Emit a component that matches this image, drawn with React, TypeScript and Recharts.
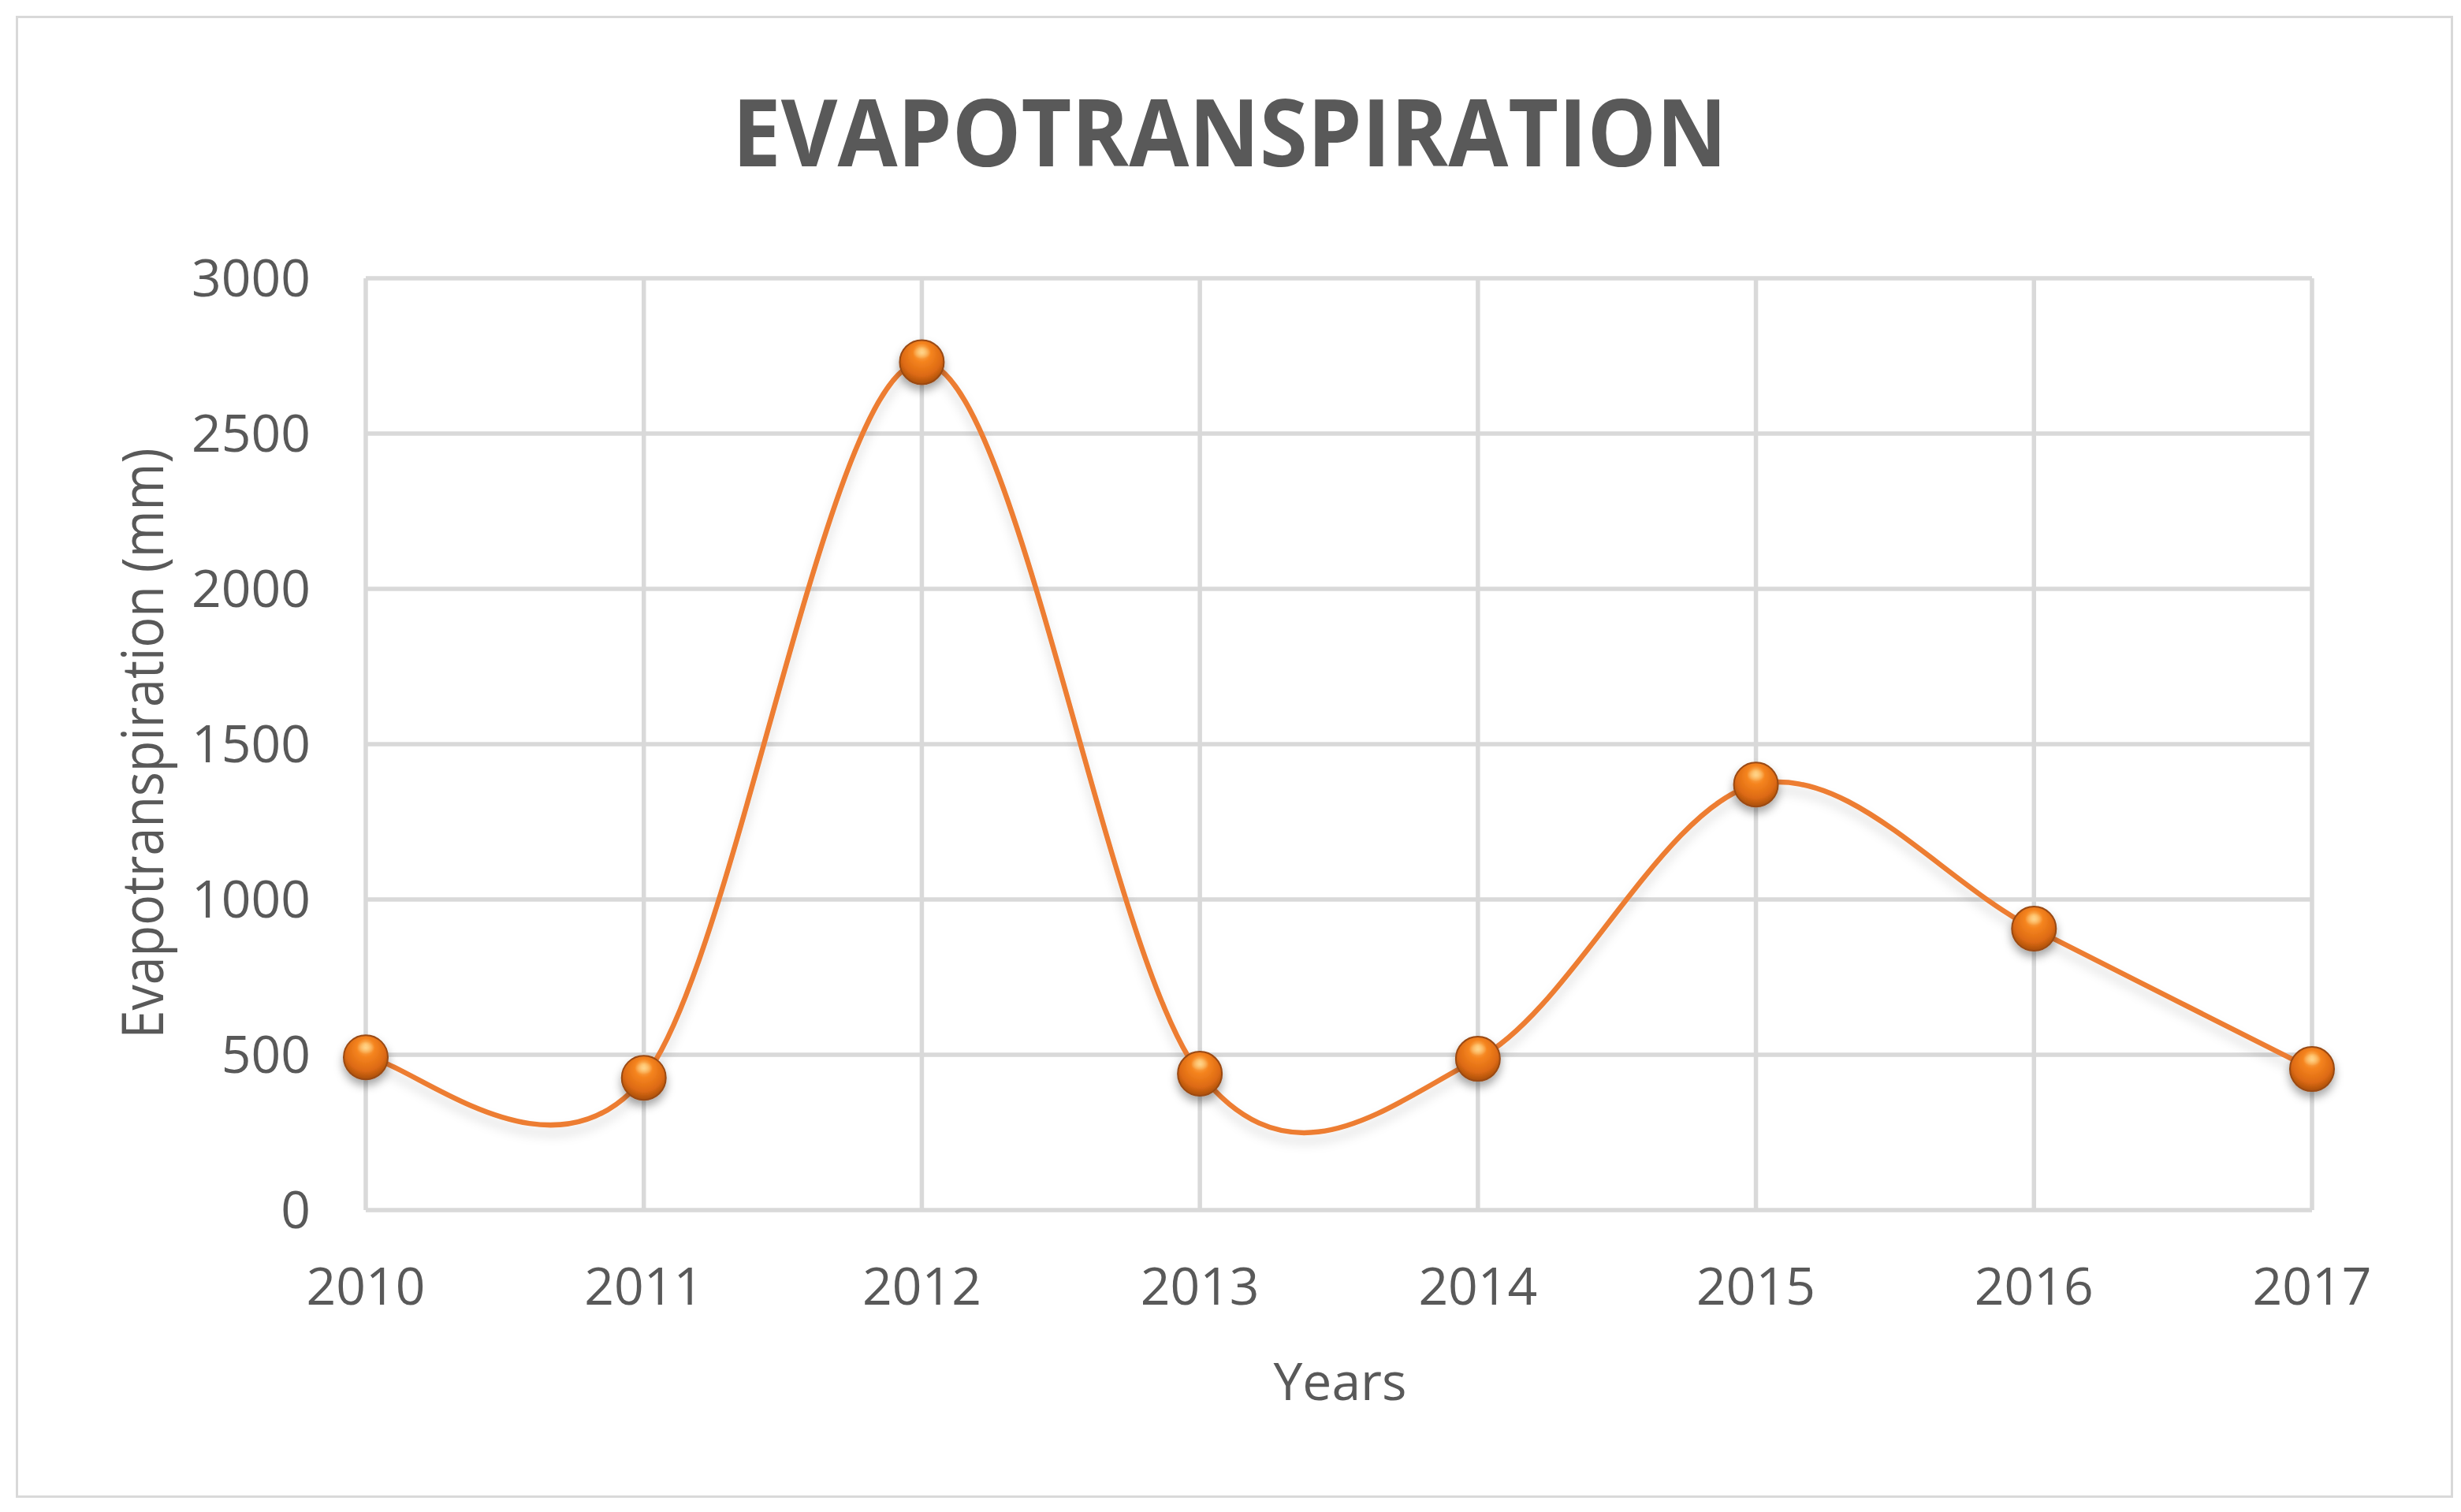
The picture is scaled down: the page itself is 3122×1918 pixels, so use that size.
import React from "react";
import { CartesianGrid, Line, LineChart, XAxis, YAxis } from "recharts";

const years = ["2010", "2011", "2012", "2013", "2014", "2015", "2016", "2017"];
const evapotranspiration = [492, 426, 2730, 439, 487, 1370, 906, 454];
const yTicks = [0, 500, 1000, 1500, 2000, 2500, 3000];

const data = years.map((year, i) => ({ year, value: evapotranspiration[i] }));

const TEXT = "#595959";
const GRID = "#D9D9D9";
const ORANGE = "#ED7D31";
const FONT = "'Open Sans', 'Noto Sans', sans-serif";

/** Excel-style smoothed line (uniform Catmull-Rom as cubic Beziers). */
function excelSmooth(context: any) {
  let pts: [number, number][] = [];
  return {
    areaStart() {},
    areaEnd() {},
    lineStart() {
      pts = [];
    },
    point(x: number, y: number) {
      pts.push([+x, +y]);
    },
    lineEnd() {
      if (!pts.length) return;
      context.moveTo(pts[0][0], pts[0][1]);
      for (let i = 0; i < pts.length - 1; i++) {
        const p0 = pts[i - 1] ?? pts[i];
        const p1 = pts[i];
        const p2 = pts[i + 1];
        const p3 = pts[i + 2] ?? p2;
        context.bezierCurveTo(
          p1[0] + (p2[0] - p0[0]) / 6,
          p1[1] + (p2[1] - p0[1]) / 6,
          p2[0] - (p3[0] - p1[0]) / 6,
          p2[1] - (p3[1] - p1[1]) / 6,
          p2[0],
          p2[1]
        );
      }
    },
  };
}

function BallDot(props: any) {
  const { cx, cy, index } = props;
  if (cx == null || cy == null) return null;
  return (
    <g key={index} filter="url(#ballShadow)">
      <circle cx={cx} cy={cy} r={28} fill="url(#ballFill)" stroke="#9A4A12" strokeWidth={2} />
      <ellipse cx={cx} cy={cy - 12} rx={11} ry={8} fill="url(#ballGlare)" />
    </g>
  );
}

function YTitle(props: any) {
  return (
    <text
      x={199}
      y={935}
      transform="rotate(-90, 199, 935)"
      textAnchor="middle"
      fill={TEXT}
      fontFamily={FONT}
      fontSize={74}
      textLength={749}
      lengthAdjust="spacingAndGlyphs"
    >
      Evapotranspiration (mm)
    </text>
  );
}

function XTitle(props: any) {
  return (
    <text x={1692} y={1768} textAnchor="middle" fill={TEXT} fontFamily={FONT} fontSize={66}>
      Years
    </text>
  );
}

export default function App() {
  return (
    <div style={{ position: "relative", width: 3106, height: 1900, background: "#fff" }}>
      <div
        style={{
          position: "absolute",
          left: 12,
          top: 12,
          width: 3092,
          height: 1880,
          border: `3px solid ${GRID}`,
          boxSizing: "border-box",
        }}
      />
      <svg width={3106} height={260} style={{ position: "absolute", left: 0, top: 0 }}>
        <text
          x={1552}
          y={203}
          textAnchor="middle"
          fill={TEXT}
          fontFamily={FONT}
          fontWeight={700}
          fontSize={119}
          textLength={1262}
          lengthAdjust="spacingAndGlyphs"
        >
          EVAPOTRANSPIRATION
        </text>
      </svg>
      <div style={{ position: "absolute", left: 0, top: 0 }}>
        <LineChart
          width={3106}
          height={1900}
          data={data}
          margin={{ top: 345, right: 181, bottom: 173, left: 0 }}
        >
          <defs>
            <radialGradient id="ballFill" cx="50%" cy="40%" r="60%" fx="50%" fy="22%">
              <stop offset="0%" stopColor="#FFC46B" />
              <stop offset="35%" stopColor="#F5841F" />
              <stop offset="75%" stopColor="#DD6A12" />
              <stop offset="100%" stopColor="#A84E10" />
            </radialGradient>
            <radialGradient id="ballGlare" cx="50%" cy="50%" r="50%">
              <stop offset="0%" stopColor="#FFD890" stopOpacity={0.9} />
              <stop offset="100%" stopColor="#FFD890" stopOpacity={0} />
            </radialGradient>
            <filter id="ballShadow" x="-50%" y="-50%" width="200%" height="200%">
              <feDropShadow dx={0} dy={7} stdDeviation={6} floodColor="#000" floodOpacity={0.35} />
            </filter>
            <filter id="lineShadow" x="-10%" y="-10%" width="120%" height="130%">
              <feDropShadow dx={0} dy={10} stdDeviation={7} floodColor="#000" floodOpacity={0.15} />
            </filter>
          </defs>
          <CartesianGrid stroke={GRID} strokeWidth={5.5} />
          <XAxis
            dataKey="year"
            axisLine={false}
            tickLine={false}
            tickSize={0}
            tickMargin={73}
            height={200}
            interval={0}
            tick={{ fill: TEXT, fontSize: 66, fontFamily: FONT }}
            label={<XTitle />}
          />
          <YAxis
            domain={[0, 3000]}
            ticks={yTicks}
            axisLine={false}
            tickLine={false}
            tickSize={0}
            tickMargin={70}
            width={456}
            tick={{ fill: TEXT, fontSize: 66, fontFamily: FONT }}
            label={<YTitle />}
          />
          <Line
            dataKey="value"
            type={excelSmooth as any}
            stroke={ORANGE}
            strokeWidth={6.5}
            filter="url(#lineShadow)"
            dot={<BallDot />}
            activeDot={false}
            isAnimationActive={false}
          />
        </LineChart>
      </div>
    </div>
  );
}
